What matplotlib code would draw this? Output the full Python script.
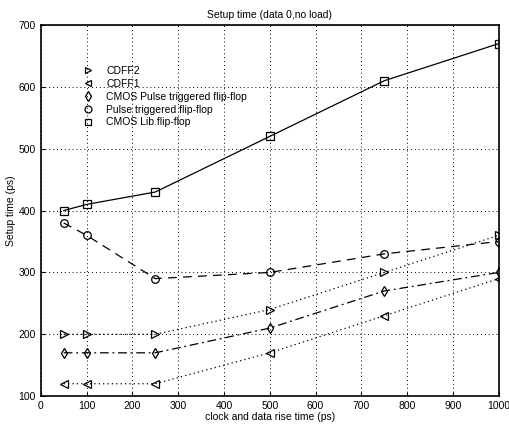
import matplotlib
matplotlib.use("Agg")
import matplotlib.pyplot as plt
from matplotlib.lines import Line2D

plt.rcParams['font.family'] = ['Liberation Sans', 'DejaVu Sans']

x = [50, 100, 250, 500, 750, 1000]
cdff2 = [200, 200, 200, 240, 300, 360]
cdff1 = [120, 120, 120, 170, 230, 290]
cmos_pulse = [170, 170, 170, 210, 270, 300]
pulse = [380, 360, 290, 300, 330, 350]
cmos_lib = [400, 410, 430, 520, 610, 670]

labels = ['CDFF2', 'CDFF1', 'CMOS Pulse triggered flip-flop',
          'Pulse triggered flip-flop', 'CMOS Lib.flip-flop']
xticks = list(range(0, 1001, 100))
yticks = list(range(100, 701, 100))

fig = plt.figure(figsize=(5.1, 4.25), dpi=100)
ax = fig.add_axes([0.080, 0.068, 0.898, 0.873])

mk = dict(color='black', markerfacecolor='none', markeredgecolor='black',
          markersize=5.5, markeredgewidth=0.9, linewidth=0.9)
series = [
    (cdff2, '>', (0, (1, 2.5))),
    (cdff1, '<', (0, (1, 2.5))),
    (cmos_pulse, 'd', (0, (7, 3, 1.5, 3))),
    (pulse, 'o', (0, (7, 5))),
    (cmos_lib, 's', '-'),
]
handles = []
for (vals, m, ls), lab in zip(series, labels):
    ax.plot(x, vals, marker=m, linestyle=ls, **mk)
    handles.append(Line2D([], [], marker=m, linestyle='none', color='black',
                          markerfacecolor='none', markersize=5,
                          markeredgewidth=0.9, label=lab))

ax.set_xlim(0, 1000)
ax.set_ylim(100, 700)
ax.set_xticks(xticks)
ax.set_yticks(yticks)
ax.grid(True, linestyle=(0, (1, 3)), color='black', linewidth=0.7)
ax.tick_params(direction='in', labelsize=7.5, length=3, width=0.8)
for s in ax.spines.values():
    s.set_linewidth(1.2)

ax.set_title('Setup time (data 0,no load)', fontsize=7.5, pad=5)
ax.set_xlabel('clock and data rise time (ps)', fontsize=7.5, labelpad=1)
ax.set_ylabel('Setup time (ps)', fontsize=7.5, labelpad=2)

ax.legend(handles=handles, loc='upper left', bbox_to_anchor=(0.075, 0.91),
          frameon=False, fontsize=7.5, handlelength=1.0, handletextpad=1.3,
          labelspacing=0.28, borderpad=0.2)

fig.savefig('out.png', dpi=100)
